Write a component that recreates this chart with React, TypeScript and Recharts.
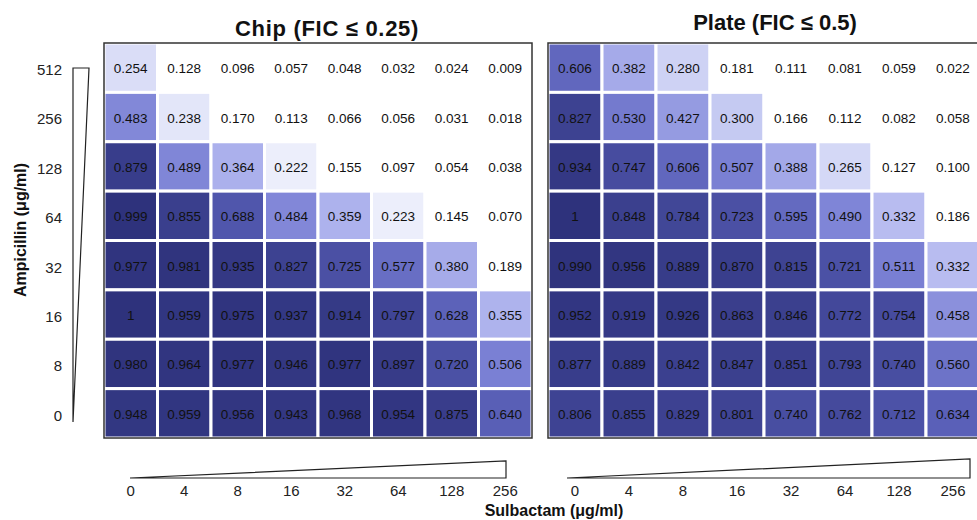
import React from "react";
import { ScatterChart, Scatter, XAxis, YAxis } from "recharts";

// Ampicillin rows, listed top (512) to bottom (0)
const AMP_LABELS = ["512", "256", "128", "64", "32", "16", "8", "0"];
const SUL_LABELS = ["0", "4", "8", "16", "32", "64", "128", "256"];

const CHIP_VALUES = [
  [0.254, 0.128, 0.096, 0.057, 0.048, 0.032, 0.024, 0.009],
  [0.483, 0.238, 0.17, 0.113, 0.066, 0.056, 0.031, 0.018],
  [0.879, 0.489, 0.364, 0.222, 0.155, 0.097, 0.054, 0.038],
  [0.999, 0.855, 0.688, 0.484, 0.359, 0.223, 0.145, 0.07],
  [0.977, 0.981, 0.935, 0.827, 0.725, 0.577, 0.38, 0.189],
  [1, 0.959, 0.975, 0.937, 0.914, 0.797, 0.628, 0.355],
  [0.98, 0.964, 0.977, 0.946, 0.977, 0.897, 0.72, 0.506],
  [0.948, 0.959, 0.956, 0.943, 0.968, 0.954, 0.875, 0.64],
];

const PLATE_VALUES = [
  [0.606, 0.382, 0.28, 0.181, 0.111, 0.081, 0.059, 0.022],
  [0.827, 0.53, 0.427, 0.3, 0.166, 0.112, 0.082, 0.058],
  [0.934, 0.747, 0.606, 0.507, 0.388, 0.265, 0.127, 0.1],
  [1, 0.848, 0.784, 0.723, 0.595, 0.49, 0.332, 0.186],
  [0.99, 0.956, 0.889, 0.87, 0.815, 0.721, 0.511, 0.332],
  [0.952, 0.919, 0.926, 0.863, 0.846, 0.772, 0.754, 0.458],
  [0.877, 0.889, 0.842, 0.847, 0.851, 0.793, 0.74, 0.56],
  [0.806, 0.855, 0.829, 0.801, 0.74, 0.762, 0.712, 0.634],
];

const FONT = "'Liberation Sans', Arial, Helvetica, sans-serif";

// white -> navy colour ramp
const STOPS: [number, number[]][] = [
  [0.19, [255, 255, 255]],
  [0.26, [214, 218, 246]],
  [0.35, [176, 181, 238]],
  [0.5, [124, 130, 213]],
  [0.65, [86, 92, 180]],
  [0.8, [63, 68, 148]],
  [1, [46, 50, 124]],
];

function colorFor(v: number) {
  if (v <= STOPS[0][0]) return "rgb(255,255,255)";
  for (let i = 1; i < STOPS.length; i++) {
    const [t1, c1] = STOPS[i];
    const [t0, c0] = STOPS[i - 1];
    if (v <= t1) {
      const f = (v - t0) / (t1 - t0);
      const c = c0.map((a, k) => Math.round(a + (c1[k] - a) * f));
      return `rgb(${c[0]},${c[1]},${c[2]})`;
    }
  }
  const c = STOPS[STOPS.length - 1][1];
  return `rgb(${c[0]},${c[1]},${c[2]})`;
}

function toPoints(values: number[][]) {
  const pts: { x: number; y: number; v: number }[] = [];
  values.forEach((row, r) =>
    row.forEach((v, c) => pts.push({ x: c, y: values.length - 1 - r, v }))
  );
  return pts;
}

const makeCell = (cw: number, ch: number) => (props: any) => {
  const { cx, cy, payload } = props;
  const label = payload.v === 1 ? "1" : payload.v.toFixed(3);
  return (
    <g>
      <rect
        x={cx - cw / 2}
        y={cy - ch / 2}
        width={cw}
        height={ch}
        fill={colorFor(payload.v)}
        stroke="#ffffff"
        strokeWidth={3}
      />
      <text
        x={cx}
        y={cy + 1}
        textAnchor="middle"
        dominantBaseline="central"
        fontSize={13.5}
        fontFamily={FONT}
        fill="#111"
      >
        {label}
      </text>
    </g>
  );
};

const PLOT_H = 395;

function Panel({
  values,
  width,
  margin,
  plotW,
  showY,
}: {
  values: number[][];
  width: number;
  margin: { top: number; right: number; bottom: number; left: number };
  plotW: number;
  showY: boolean;
}) {
  const tick = { fontSize: 15, fontFamily: FONT, fill: "#222" };
  return (
    <ScatterChart width={width} height={520} margin={margin}>
      <XAxis
        type="number"
        dataKey="x"
        domain={[-0.5, 7.5]}
        ticks={[0, 1, 2, 3, 4, 5, 6, 7]}
        interval={0}
        tickFormatter={(i: number) => SUL_LABELS[i]}
        axisLine={false}
        tickLine={false}
        tickMargin={41}
        height={60}
        tick={tick}
      />
      <YAxis
        type="number"
        dataKey="y"
        domain={[-0.5, 7.5]}
        ticks={[0, 1, 2, 3, 4, 5, 6, 7]}
        interval={0}
        tickFormatter={(i: number) => AMP_LABELS[7 - i]}
        axisLine={false}
        tickLine={false}
        tickMargin={36}
        width={60}
        hide={!showY}
        tick={{ ...tick, dy: 2 }}
      />
      <Scatter
        data={toPoints(values)}
        shape={makeCell(plotW / 8, PLOT_H / 8)}
        isAnimationActive={false}
      />
    </ScatterChart>
  );
}

export default function App() {
  return (
    <div
      style={{
        position: "absolute",
        left: 0,
        top: 0,
        width: 977,
        height: 520,
        overflow: "hidden",
        background: "#fff",
      }}
    >
      <div style={{ position: "absolute", left: 0, top: 0 }}>
        <Panel
          values={CHIP_VALUES}
          width={540}
          margin={{ top: 43, right: 8, bottom: 22, left: 44 }}
          plotW={428}
          showY
        />
      </div>
      <div style={{ position: "absolute", left: 540, top: 0 }}>
        <Panel
          values={PLATE_VALUES}
          width={445}
          margin={{ top: 43, right: 5, bottom: 22, left: 8 }}
          plotW={432}
          showY={false}
        />
      </div>

      {/* frames, wedges and titles */}
      <svg
        width={977}
        height={520}
        style={{ position: "absolute", left: 0, top: 0, pointerEvents: "none" }}
      >
        <rect x={104} y={43} width={428} height={395} fill="none" stroke="#333" strokeWidth={1.5} />
        <rect x={548} y={43} width={432} height={395} fill="none" stroke="#333" strokeWidth={1.5} />

        <polygon points="73,68 89,68 73,422" fill="#fff" stroke="#222" strokeWidth={1.2} />
        <polygon points="130,478 506,478 506,461" fill="#fff" stroke="#222" strokeWidth={1.2} />
        <polygon points="567,478 970,478 970,459" fill="#fff" stroke="#222" strokeWidth={1.2} />

        <text x={327} y={36} textAnchor="middle" fontSize={22} fontWeight="bold" fontFamily={FONT} fill="#111" letterSpacing={0.7}>
          Chip (FIC ≤ 0.25)
        </text>
        <text x={775} y={30} textAnchor="middle" fontSize={22} fontWeight="bold" fontFamily={FONT} fill="#111">
          Plate (FIC ≤ 0.5)
        </text>
        <text
          x={0}
          y={0}
          transform="translate(26,230) rotate(-90)"
          textAnchor="middle"
          fontSize={16}
          fontWeight="bold"
          fontFamily={FONT}
          fill="#111"
        >
          Ampicillin (μg/ml)
        </text>
        <text x={554} y={516} textAnchor="middle" fontSize={16} fontWeight="bold" fontFamily={FONT} fill="#111">
          Sulbactam (μg/ml)
        </text>
      </svg>
    </div>
  );
}
